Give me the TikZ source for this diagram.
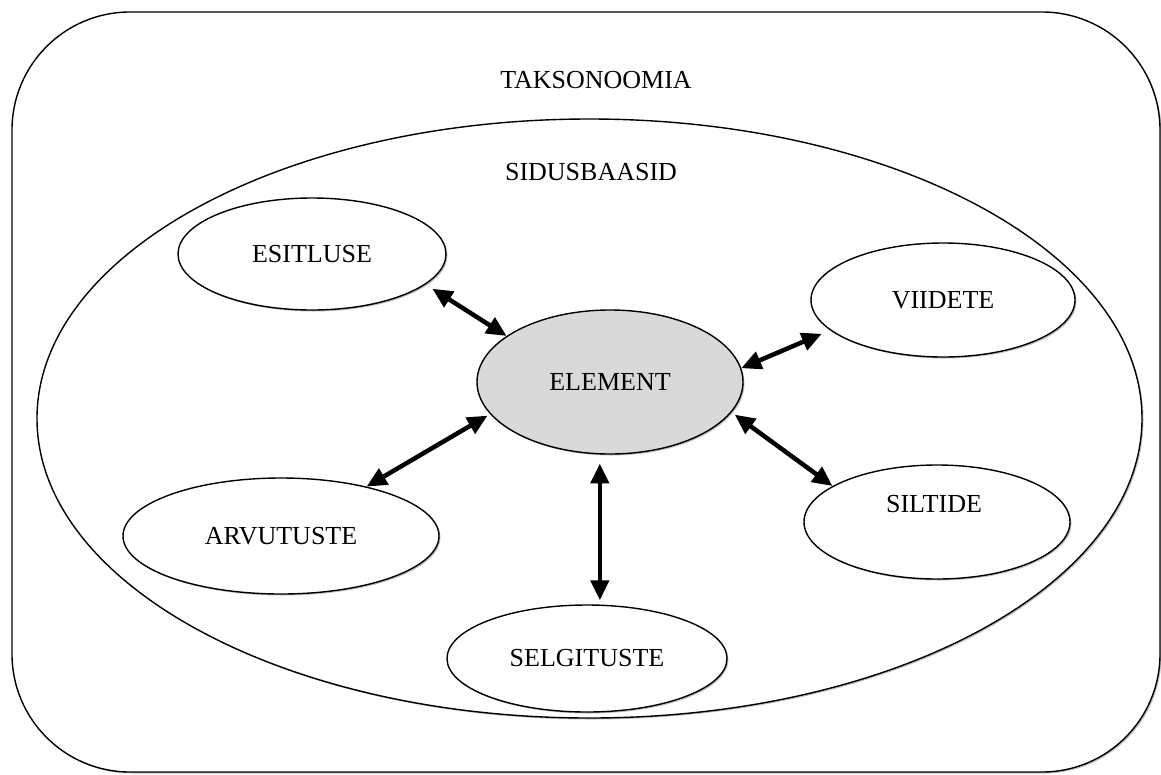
\documentclass[tikz,border=0pt]{standalone}
\usepackage{fontspec}
\setmainfont{Liberation Serif}
\usetikzlibrary{arrows.meta,shadows,shapes.geometric,calc}
\begin{document}
\begin{tikzpicture}[x=1pt,y=-1pt,
  lbl/.style={font=\fontsize{26}{30}\selectfont, inner sep=0pt},
  shad/.style={drop shadow={shadow xshift=1.5pt,shadow yshift=-1.5pt,opacity=0.25,fill=black}},
  bub/.style={ellipse, draw, line width=1.4pt, fill=white, inner sep=0pt, font=\fontsize{26}{30}\selectfont, shad},
  arr/.style={line width=4.5pt, {Triangle[length=20pt,width=18pt]}-{Triangle[length=20pt,width=18pt]}}
]
\useasboundingbox (0,0) rectangle (1161,774);
\node[draw, line width=1.4pt, rounded corners=118pt, minimum width=1148pt, minimum height=760pt, fill=white, shad] (tax) at (586,392) {};
\node[lbl] (taxl) at (596,80) {TAKSONOOMIA};
\node[bub, minimum width=1105pt, minimum height=599pt] (sid) at (589.5,418.5) {};
\node[lbl] (sidl) at (591,172) {SIDUSBAASID};
\node[bub, minimum width=268pt, minimum height=112pt] (esit) at (312,254) {ESITLUSE};
\node[bub, minimum width=264pt, minimum height=114pt] (viid) at (943,300) {VIIDETE};
\node[bub, minimum width=266pt, minimum height=144pt, fill=gray!30] (elem) at (610,382) {ELEMENT};
\node[bub, minimum width=316pt, minimum height=116pt] (arvu) at (281,536) {ARVUTUSTE};
\node[bub, minimum width=266pt, minimum height=114pt] (silt) at (937,522) {};
\node[lbl] (siltl) at (934,504) {SILTIDE};
\node[bub, minimum width=280pt, minimum height=107pt] (selg) at (587,658.5) {SELGITUSTE};
\draw[arr, shorten <=8pt] (esit.-15.4) -- (elem.156.3);
\draw[arr, shorten <=9pt] (viid.-165.2) -- (elem.6.7);
\draw[arr, shorten >=3pt] (arvu.30.7) -- (elem.-165.5);
\draw[arr, shorten >=4pt] (silt.161.6) -- (elem.-14.9);
\draw[arr, shorten <=9pt, shorten >=4pt] (elem.-98.7) -- (elem.-98.7 |- selg.north);
\end{tikzpicture}
\end{document}
